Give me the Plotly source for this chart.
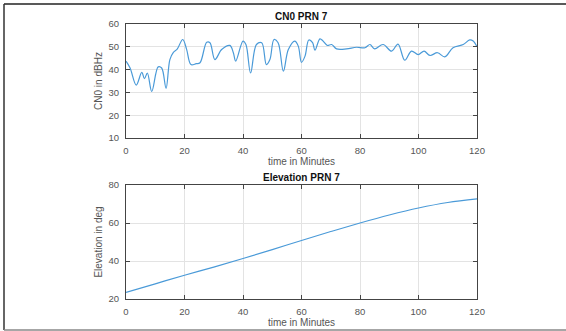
import plotly.graph_objects as go

# CN0 PRN 7 (dBHz) vs time (minutes)
cn0_t = [0, 1.4, 3.5, 5.4, 6.3, 7.3, 8.8, 11, 12.2, 13.7, 15, 16.2, 17.5, 19.4, 20.7, 22.2, 24, 25.3,
         27.6, 28.7, 30.4, 32.7, 35.5, 36.7, 37.5, 40, 41, 42.6, 44.6, 46.4, 48, 49.2, 50.6, 52,
         53.8, 55.5, 57.7, 58.9, 60, 61.2, 62.5, 63.8, 64.6, 66.3, 67.4, 68.8, 70.3, 72, 75.4,
         78.8, 81.7, 83.4, 85, 87.9, 90.8, 93, 95.3, 97.6, 99.9, 101.9, 103.9, 106.5, 109, 111.8,
         115.3, 117.5, 118.7, 120]
cn0_v = [43.7, 40.7, 33.2, 38.8, 36, 38.5, 30.4, 41.2, 40.7, 31.8, 44.4, 47.6, 49, 53.2, 49, 42.2, 42.6, 43,
         52, 51.8, 44.4, 48.8, 50.6, 47.4, 43.7, 52.5, 51, 38.5, 51, 51.8, 42.2, 44.4, 53.2, 51.8,
         39.3, 48.8, 52.5, 50.3, 43.2, 45.9, 53, 51.8, 48.5, 53.5, 52.5, 50.6, 51, 49.1, 49.1,
         49.8, 49.6, 51, 49.1, 51, 48.1, 51.2, 44.1, 48.1, 46.6, 48.1, 46.2, 47.4, 45.6, 49.6,
         51, 53, 52.5, 50]

# Elevation PRN 7 (deg) vs time (minutes)
el_t = [0, 10, 20, 30, 40, 50, 60, 70, 80, 90, 100, 110, 120]
el_v = [23.5, 28, 32.5, 36.8, 41.3, 46, 50.8, 55.5, 60, 64.2, 67.9, 70.8, 72.7]

x_ticks = [0, 20, 40, 60, 80, 100, 120]
cn0_ticks = [10, 20, 30, 40, 50, 60]
el_ticks = [20, 40, 60, 80]

W, H = 566, 331
LINE = '#4a9ad8'
FONT = 'Liberation Sans, Arial, sans-serif'

fig = go.Figure()
fig.add_trace(go.Scatter(x=cn0_t, y=cn0_v, mode='lines', line=dict(color=LINE, width=1.2, shape='spline', smoothing=1.0),
                         xaxis='x', yaxis='y', showlegend=False))
fig.add_trace(go.Scatter(x=el_t, y=el_v, mode='lines', line=dict(color=LINE, width=1.2, shape='spline'),
                         xaxis='x2', yaxis='y2', showlegend=False))

def px_x(p):
    return p / W

def px_y(p):
    return 1 - p / H

xd = [px_x(126), px_x(477)]
ax_common = dict(showline=True, linecolor='#444444', linewidth=1, mirror='allticks', ticks='inside', ticklen=4,
                 tickcolor='#444444', showgrid=True, gridcolor='#e3e3e3', gridwidth=1, zeroline=False,
                 automargin=False, ticklabelstandoff=4,
                 tickfont=dict(family=FONT, size=9.5, color='#555555'))

fig.update_layout(
    width=W, height=H, margin=dict(l=0, r=0, t=0, b=0, autoexpand=False),
    paper_bgcolor='white', plot_bgcolor='white',
    font=dict(family=FONT, size=10, color='#555555'),
    xaxis=dict(domain=xd, range=[0, 120], tickvals=x_ticks, anchor='y',
               title=dict(text='time in Minutes', standoff=2, font=dict(size=10, color='#555555')), **ax_common),
    yaxis=dict(domain=[px_y(138), px_y(24)], range=[10, 60], tickvals=cn0_ticks, anchor='x',
               title=dict(text='CN0 in dBHz', standoff=4, font=dict(size=10, color='#555555')), **ax_common),
    xaxis2=dict(domain=xd, range=[0, 120], tickvals=x_ticks, anchor='y2',
                title=dict(text='time in Minutes', standoff=2, font=dict(size=10, color='#555555')), **ax_common),
    yaxis2=dict(domain=[px_y(299), px_y(185)], range=[20, 80], tickvals=el_ticks, anchor='x2',
                title=dict(text='Elevation in deg', standoff=4, font=dict(size=10, color='#555555')), **ax_common),
    annotations=[
        dict(text='<b>CN0 PRN 7</b>', x=(xd[0] + xd[1]) / 2, y=px_y(16), xref='paper', yref='paper',
             showarrow=False, font=dict(family=FONT, size=10, color='#111111'), yanchor='middle'),
        dict(text='<b>Elevation PRN 7</b>', x=(xd[0] + xd[1]) / 2, y=px_y(177), xref='paper', yref='paper',
             showarrow=False, font=dict(family=FONT, size=10, color='#111111'), yanchor='middle'),
    ],
    shapes=[
        dict(type='line', xref='paper', yref='paper', x0=px_x(4), x1=1.01, y0=px_y(4), y1=px_y(4),
             line=dict(color='#222222', width=1.5)),
        dict(type='line', xref='paper', yref='paper', x0=px_x(4), x1=px_x(4), y0=px_y(4), y1=px_y(330),
             line=dict(color='#333333', width=1.5)),
        dict(type='line', xref='paper', yref='paper', x0=px_x(4), x1=1.01, y0=px_y(330), y1=px_y(330),
             line=dict(color='#888888', width=1.5)),
    ],
)

fig.write_html('out.html', config={'displayModeBar': False},
               post_script="document.body.style.margin='0';document.body.style.overflow='hidden';")
